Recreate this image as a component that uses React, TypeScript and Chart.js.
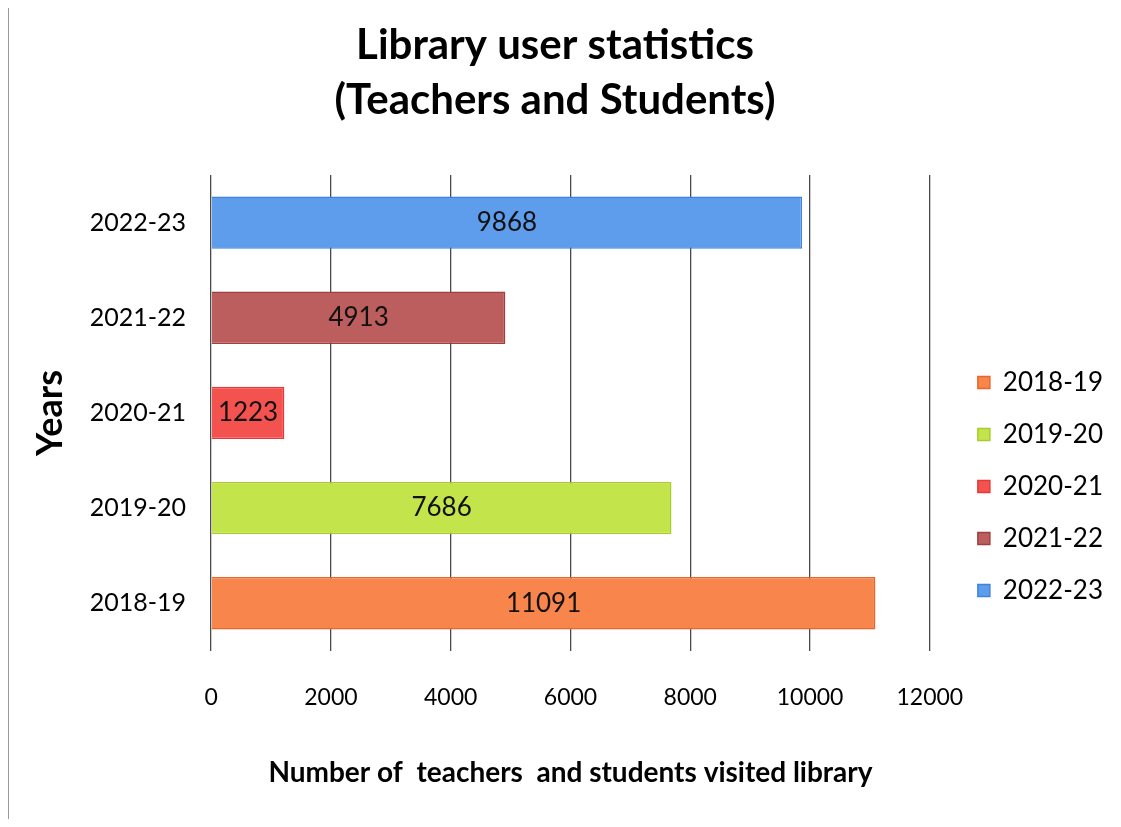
import React, { useEffect, useRef } from "react";
import { Chart, registerables } from "chart.js";

Chart.register(...registerables);

const years = ["2018-19", "2019-20", "2020-21", "2021-22", "2022-23"];
const visitors = [11091, 7686, 1223, 4913, 9868];
const fillColors = ["#F8854C", "#C4E44C", "#F3524E", "#BC5E5D", "#5E9CEC"];
const borderColors = ["#E8662A", "#A9CC2C", "#E43B38", "#A03F3E", "#3F84DC"];
const xMin = 0;
const xMax = 12000;
const xStep = 2000;
const titleLines = ["Library user statistics", "(Teachers and Students)"];
const xAxisTitle = "Number of  teachers  and students visited library";
const yAxisTitle = "Years";

const FONT = "Lato, 'Open Sans', sans-serif";

const barLabels = {
  id: "barLabels",
  afterDatasetsDraw(chart: any) {
    const ctx = chart.ctx;
    ctx.save();
    ctx.font = `26px ${FONT}`;
    ctx.fillStyle = "#111";
    ctx.textAlign = "center";
    ctx.textBaseline = "middle";
    chart.data.datasets.forEach((ds: any, i: number) => {
      const meta = chart.getDatasetMeta(i);
      meta.data.forEach((el: any, j: number) => {
        const v = ds.data[j];
        if (v == null) return;
        const { x, y, base } = el.getProps(["x", "y", "base"], true);
        ctx.fillText(String(v), (x + base) / 2, y);
      });
    });
    ctx.restore();
  },
};

// nudges the legend block away from the plot and lower, as in the reference
const legendOffset = {
  id: "legendOffset",
  afterLayout(chart: any) {
    const l = chart.legend;
    if (!l) return;
    const dx = 22;
    const dy = 78;
    l.left += dx;
    l.right += dx;
    l.top += dy;
    l.bottom += dy;
  },
};

export default function App() {
  const ref = useRef<HTMLCanvasElement | null>(null);

  useEffect(() => {
    if (!ref.current) return;
    const datasets = years.map((y, i) => ({
      label: y,
      data: years.map((_, j) => (j === i ? visitors[i] : null)),
      backgroundColor: fillColors[i],
      borderColor: borderColors[i],
      borderWidth: 1.5,
      grouped: false,
      barPercentage: 0.55,
      categoryPercentage: 1,
    }));
    const chart = new Chart(ref.current, {
      type: "bar",
      data: { labels: years, datasets },
      plugins: [barLabels, legendOffset],
      options: {
        indexAxis: "y",
        animation: false,
        responsive: false,
        devicePixelRatio: 1,
        layout: { padding: { left: 10, right: 22, top: 0, bottom: 10 } },
        plugins: {
          title: {
            display: true,
            text: titleLines,
            color: "#000",
            font: { family: FONT, size: 42, weight: "bold", lineHeight: 1.31 },
            padding: { top: 10, bottom: 47 },
          },
          legend: {
            display: true,
            position: "right",
            align: "center",
            labels: {
              boxWidth: 12,
              boxHeight: 12,
              padding: 26,
              color: "#000",
              font: { family: FONT, size: 26 },
            },
          },
          tooltip: { enabled: false },
        },
        scales: {
          x: {
            min: xMin,
            max: xMax,
            ticks: {
              stepSize: xStep,
              color: "#000",
              padding: 33,
              font: { family: FONT, size: 23 },
              callback: (v: any) => String(v),
            },
            grid: { color: "#4a4a4a", lineWidth: 1.3, drawTicks: false },
            border: { display: false },
            title: {
              display: true,
              text: xAxisTitle,
              color: "#000",
              font: { family: FONT, size: 28, weight: "bold" },
              padding: { top: 12, bottom: 19 },
            },
          },
          y: {
            reverse: true,
            ticks: {
              color: "#000",
              padding: 25,
              font: { family: FONT, size: 25 },
            },
            grid: { display: false, drawTicks: false },
            border: { display: false },
            title: {
              display: true,
              text: yAxisTitle,
              color: "#000",
              font: { family: FONT, size: 36, weight: "bold", lineHeight: 0.8 },
              padding: { top: 17, bottom: 0 },
            },
          },
        },
      },
    });
    return () => chart.destroy();
  }, []);

  return (
    <div style={{ width: 1105, height: 811, borderLeft: "1px solid #999", boxSizing: "border-box" }}>
      <canvas ref={ref} width={1104} height={811} />
    </div>
  );
}
